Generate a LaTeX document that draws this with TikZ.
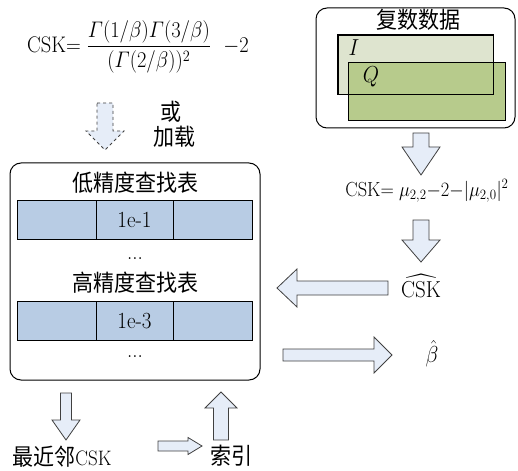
\documentclass[tikz,border=0pt]{standalone}
\usepackage{fix-cm}
\usepackage{amsmath}
\usepackage{graphicx}
\usepackage{fontspec}
\setmainfont{Latin Modern Roman}
\newfontfamily\cjk{Noto Sans CJK SC}
\newcommand\tall[1]{\scalebox{1}[1.1]{#1}}
\definecolor{arrowfill}{HTML}{E6EDF8}
\definecolor{cellfill}{HTML}{B8CCE4}
\definecolor{ifill}{HTML}{DEE4CF}
\definecolor{qfill}{HTML}{B7CB8C}
\definecolor{edge}{HTML}{404040}
\newcommand\BlkV[7][]{%
  \draw[barrow,#1] (#2-#6,#3) -- (#2+#6,#3) -- (#2+#6,#4) -- (#2+#7,#4) -- (#2,#5)
    -- (#2-#7,#4) -- (#2-#6,#4) -- cycle;}
\newcommand\BlkH[7][]{%
  \draw[barrow,#1] (#3,#2-#6) -- (#3,#2+#6) -- (#4,#2+#6) -- (#4,#2+#7) -- (#5,#2)
    -- (#4,#2-#7) -- (#4,#2-#6) -- cycle;}
\tikzset{
  barrow/.style={draw=edge, fill=arrowfill, line width=0.8pt, line join=miter},
  box/.style={draw=black, line width=1pt, rounded corners=11pt, inner sep=0pt},
  cell/.style={draw=black, fill=cellfill, line width=0.8pt, inner sep=0pt, minimum height=39pt},
  txt/.style={inner sep=0pt, font=\fontsize{21}{24}\selectfont},
  mtxt/.style={inner sep=0pt, font=\fontsize{18.5}{22}\selectfont},
  ctxt/.style={inner sep=0pt, font=\fontsize{21}{24}\selectfont\cjk},
}
\begin{document}
\begin{tikzpicture}[x=1pt,y=-1pt]
\useasboundingbox (0,0) rectangle (518,470);

% top-left formula
\node[inner sep=0pt, font=\fontsize{20.5}{24}\selectfont] (cskdef) at (138,47) {\tall{CSK$=\dfrac{\varGamma(1/\beta)\varGamma(3/\beta)}{(\varGamma(2/\beta))^{2}}$\ \ $-2$}};
\BlkV[dashed]{105}{103}{131}{150}{8}{19}
\node[ctxt] (huo) at (171,112) {\tall{或}};
\node[ctxt] (jiazai) at (174,137) {\tall{加载}};

% left box
\node[box, minimum width=250pt, minimum height=217pt] (lut) at (135,271.5) {};
\node[ctxt] (low) at (135,183) {\tall{低精度查找表}};
\node[cell, minimum width=79pt] (a1) at (56.5,219.5) {};
\node[cell, minimum width=77pt, txt] (a2) at (134.5,219.5) {\tall{1e-1}};
\node[cell, minimum width=79pt] (a3) at (212.5,219.5) {};
\node[txt] (dots1) at (135,259) {\tall{...}};
\node[ctxt] (high) at (135,283) {\tall{高精度查找表}};
\node[cell, minimum width=79pt] (b1) at (56.5,321) {};
\node[cell, minimum width=77pt, txt] (b2) at (134.5,321) {\tall{1e-3}};
\node[cell, minimum width=79pt] (b3) at (212.5,321) {};
\node[txt] (dots2) at (135,357) {\tall{...}};

% right box
\node[box, minimum width=199pt, minimum height=120pt] (cbox) at (415.5,68) {};
\node[ctxt] (fushu) at (418,20) {\tall{复数数据}};
\node[draw=black, fill=ifill, line width=0.8pt, minimum width=155pt, minimum height=59pt, inner sep=0pt] (irect) at (415.5,64.5) {};
\node[draw=black, fill=qfill, line width=0.8pt, minimum width=157pt, minimum height=58pt, inner sep=0pt] (qrect) at (426.5,91) {};
\draw[black, line width=0.8pt] (irect.north west) rectangle (irect.south east);
\node[txt] (ilab) at (354,48) {\tall{$I$}};
\node[txt] (qlab) at (371,77) {\tall{$Q$}};

\BlkV{421}{133}{147}{175}{8}{19}
\node[mtxt] (cskest) at (427,191) {\tall{CSK$=\mu_{2,2}{-}2{-}|\mu_{2,0}|^{2}$}};
\BlkV{421}{220}{240}{262}{8}{19}
\node[txt] (cskhat) at (421,286) {\tall{$\widehat{\mathrm{CSK}}$}};
\BlkH{288}{388}{297}{277}{7}{19}
\BlkH{355}{283}{374}{392}{6}{18}
\node[txt] (betahat) at (432,354) {\tall{$\hat{\beta}$}};

% bottom
\BlkV{66}{393}{420}{440}{5.5}{14}
\node[inner sep=0pt, font=\fontsize{19}{23}\selectfont] (nn) at (62,457) {\tall{{\cjk\fontsize{21}{24}\selectfont 最近邻}CSK}};
\BlkH{446}{158}{188}{202}{5}{8.5}
\node[ctxt] (suoyin) at (231,456) {\tall{索引}};
\BlkV{221}{440}{408}{392}{7.5}{16}
\end{tikzpicture}
\end{document}
